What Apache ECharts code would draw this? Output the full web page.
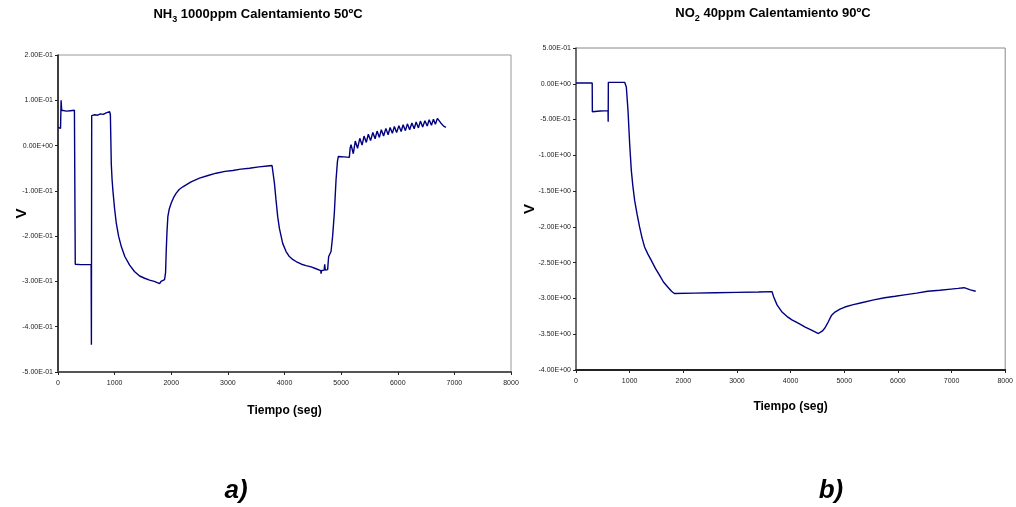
<!DOCTYPE html>
<html>
<head>
<meta charset="utf-8">
<script src="https://cdn.jsdelivr.net/npm/echarts@6/dist/echarts.min.js"></script>
<style>html,body{margin:0;padding:0;background:#fff}#c{width:1016px;height:507px}</style>
</head>
<body>
<div id="c"></div>
<script>
// ---- Data: chart a) NH3 1000ppm, 50ºC ----
const timeA = [0,20,45,55,60,65,80,150,220,290,300,305,400,500,585,590,595,650,700,750,800,850,880,912,925,941,955,970,1000,1030,1070,1118,1180,1265,1350,1441,1530,1617,1700,1794,1820,1850,1882,1900,1912,1925,1940,1965,2000,2040,2088,2140,2205,2350,2499,2650,2793,2950,3086,3230,3380,3550,3700,3780,3792,3810,3822,3850,3880,3910,3968,4028,4086,4150,4205,4300,4381,4470,4557,4640,4646,4655,4700,4710,4720,4762,4770,4780,4822,4850,4880,4910,4935,4951,5050,5145,5160,
  5175,5215,5250,5290,5330,5370,5405,5445,5480,5520,5560,5600,5635,5675,5710,5750,5790,5830,5865,5905,5940,5980,6020,6060,6095,6135,6170,6210,6250,6290,6325,6365,6400,6440,6480,6520,6555,6595,6630,6665,6700,6760,6810,6850];
const voltA = [0.040,0.036,0.038,0.100,0.104,0.078,0.074,0.076,0.077,0.078,0.076,-0.262,-0.263,-0.263,-0.263,-0.440,0.066,0.068,0.067,0.070,0.069,0.072,0.071,0.075,0.068,-0.040,-0.075,-0.100,-0.140,-0.172,-0.200,-0.223,-0.245,-0.264,-0.278,-0.288,-0.293,-0.297,-0.300,-0.305,-0.300,-0.302,-0.296,-0.280,-0.230,-0.190,-0.157,-0.140,-0.127,-0.115,-0.105,-0.097,-0.091,-0.080,-0.072,-0.066,-0.061,-0.057,-0.055,-0.052,-0.050,-0.047,-0.045,-0.044,-0.040,-0.048,-0.083,-0.120,-0.157,-0.183,-0.216,-0.234,-0.245,-0.252,-0.256,-0.262,-0.265,-0.268,-0.272,-0.276,-0.283,-0.276,-0.275,-0.262,-0.275,-0.274,-0.260,-0.245,-0.234,-0.200,-0.149,-0.076,-0.035,-0.024,-0.025,-0.026,-0.005,
  0.002,-0.018,0.010,-0.006,0.016,0.001,0.021,0.007,0.025,0.011,0.029,0.015,0.032,0.018,0.035,0.021,0.038,0.024,0.040,0.027,0.042,0.029,0.044,0.031,0.046,0.033,0.048,0.035,0.050,0.037,0.052,0.039,0.054,0.041,0.055,0.043,0.057,0.045,0.058,0.047,0.060,0.050,0.043,0.040];

// ---- Data: chart b) NO2 40ppm, 90ºC ----
const timeB = [0,150,302,305,450,597,600,603,750,907,938,969,1000,1031,1060,1093,1140,1185,1230,1278,1340,1401,1480,1556,1630,1710,1780,1833,2200,2600,3000,3400,3654,3685,3747,3840,3930,4025,4150,4272,4400,4519,4550,4600,4642,4700,4760,4827,4920,5012,5150,5321,5550,5753,5950,6123,6350,6556,6780,6988,7120,7235,7350,7450];
const voltB = [0.01,0.01,0.01,-0.39,-0.38,-0.375,-0.53,0.02,0.02,0.02,-0.045,-0.37,-0.835,-1.21,-1.43,-1.63,-1.83,-2.00,-2.15,-2.28,-2.38,-2.465,-2.58,-2.675,-2.77,-2.84,-2.90,-2.93,-2.925,-2.92,-2.915,-2.91,-2.905,-2.98,-3.09,-3.19,-3.25,-3.30,-3.35,-3.40,-3.445,-3.49,-3.495,-3.45,-3.41,-3.33,-3.24,-3.19,-3.15,-3.12,-3.09,-3.06,-3.02,-2.99,-2.97,-2.95,-2.925,-2.90,-2.885,-2.87,-2.86,-2.85,-2.88,-2.90];

// ---- Axis settings ----
const xTicks = [0,1000,2000,3000,4000,5000,6000,7000,8000];
const yRangeA = [-0.5, 0.2, 0.1];
const yRangeB = [-4.0, 0.5, 0.5];

const titleA = ['NH', '3', ' 1000ppm Calentamiento 50ºC'];
const titleB = ['NO', '2', ' 40ppm Calentamiento 90ºC'];
const xName = 'Tiempo (seg)';
const yName = 'V';
const panelLabels = ['a)', 'b)'];

function sci(v){
  const s = Number(v).toExponential(2);
  const parts = s.split('e');
  const e = parseInt(parts[1], 10);
  return parts[0] + 'E' + (e < 0 ? '-' : '+') + String(Math.abs(e)).padStart(2, '0');
}
const FONT = 'Liberation Sans, Arial, sans-serif';
const LINE = '#000080';

function xAxis(gi){
  return {
    type:'value', gridIndex:gi, min:xTicks[0], max:xTicks[xTicks.length-1], interval:1000,
    name:xName, nameLocation:'middle', nameGap:gi===0?33:31, nameMoveOverlap:false,
    nameTextStyle:{fontFamily:FONT, fontWeight:'bold', fontSize:12, color:'#000'},
    axisLine:{show:true, onZero:false, lineStyle:{color:gi===0?'#555':'#222', width:2}},
    axisTick:{show:true, length:3, inside:false, lineStyle:{color:'#222', width:1}},
    axisLabel:{fontFamily:FONT, fontSize:7, color:'#222', margin:8, formatter:(v)=>String(v)},
    splitLine:{show:false}
  };
}
function yAxis(gi, r, gap){
  return {
    type:'value', gridIndex:gi, min:r[0], max:r[1], interval:r[2],
    name:yName, nameLocation:'middle', nameGap:gap, nameRotate:90, nameMoveOverlap:false,
    nameTextStyle:{fontFamily:FONT, fontWeight:'bold', fontSize:15, color:'#000'},
    axisLine:{show:true, onZero:false, lineStyle:{color:gi===0?'#111':'#555', width:1.5}},
    axisTick:{show:true, length:3, lineStyle:{color:'#222', width:1}},
    axisLabel:{fontFamily:FONT, fontSize:7, color:'#222', margin:5, formatter:sci},
    splitLine:{show:false}
  };
}
function pairs(t, v){ return t.map((x,i)=>[x, v[i]]); }
function titleText(parts, x, y){
  return {type:'text', x:x, y:y, style:{
    text:'{b|'+parts[0]+'}{s|'+parts[1]+'}{b|'+parts[2]+'}',
    rich:{b:{fontFamily:FONT, fontWeight:'bold', fontSize:13, color:'#000', lineHeight:16, verticalAlign:'bottom'},
          s:{fontFamily:FONT, fontWeight:'bold', fontSize:9, color:'#000', lineHeight:16, verticalAlign:'bottom', padding:[0,0,-3,0]}},
    align:'center', verticalAlign:'middle'}};
}

const chart = echarts.init(document.getElementById('c'), null, {renderer:'canvas'});
chart.setOption({
  backgroundColor:'#fff',
  animation:false,
  grid:[
    {left:58, top:55, width:453, height:317, show:true, borderColor:'#999', borderWidth:1, backgroundColor:'transparent'},
    {left:576, top:48, width:432, height:322, show:true, borderColor:'#888', borderWidth:1, backgroundColor:'transparent'}
  ],
  xAxis:[xAxis(0), xAxis(1)],
  yAxis:[yAxis(0, yRangeA, 29), yAxis(1, yRangeB, 39)],
  series:[
    {type:'line', xAxisIndex:0, yAxisIndex:0, data:pairs(timeA, voltA), showSymbol:false, lineStyle:{color:LINE, width:1.4}, itemStyle:{color:LINE}},
    {type:'line', xAxisIndex:1, yAxisIndex:1, data:pairs(timeB, voltB), showSymbol:false, lineStyle:{color:LINE, width:1.4}, itemStyle:{color:LINE}}
  ],
  graphic:[
    titleText(titleA, 258, 13),
    titleText(titleB, 773, 12),
    {type:'text', x:236, y:491, style:{text:panelLabels[0], fontFamily:FONT, fontWeight:'bold', fontStyle:'italic', fontSize:26, fill:'#000', align:'center', verticalAlign:'middle'}},
    {type:'text', x:831, y:491, style:{text:panelLabels[1], fontFamily:FONT, fontWeight:'bold', fontStyle:'italic', fontSize:26, fill:'#000', align:'center', verticalAlign:'middle'}}
  ]
});
</script>
</body>
</html>
